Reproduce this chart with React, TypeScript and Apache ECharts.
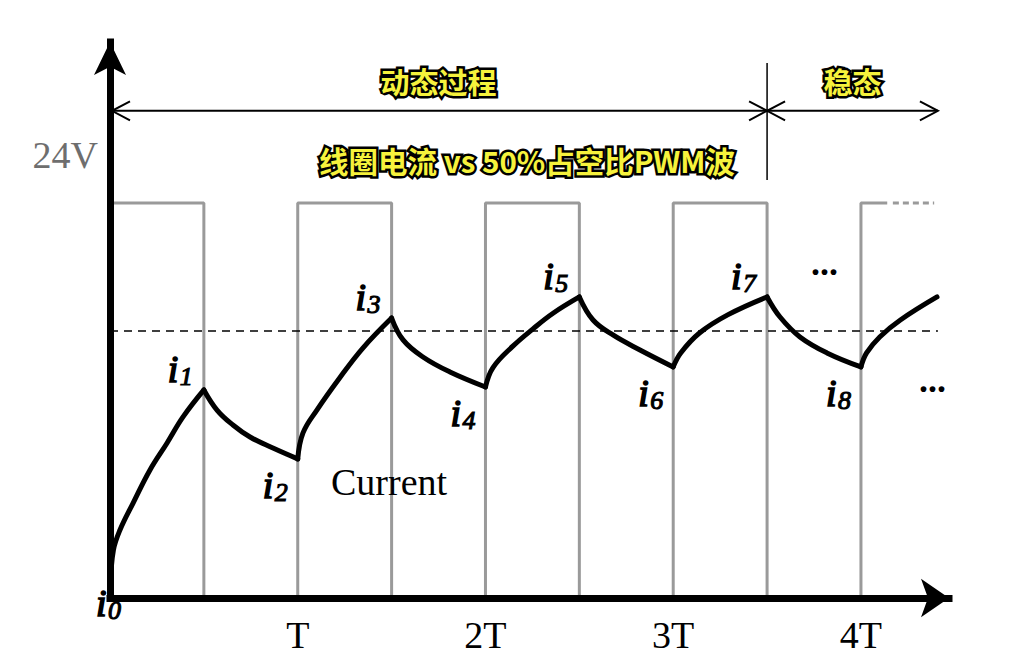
import React, { useEffect, useRef } from "react";
import * as echarts from "echarts";

// ---------- data ----------
const tickLabels = ["", "T", "2T", "3T", "4T"];
const switchTimesT = [0, 0.5, 1, 1.5, 2, 2.5, 3, 3.5, 4];
const switchLevels = [24, 0, 24, 0, 24, 0, 24, 0, 24];
const pwmSolidEndT = 4.14;
const pwmDottedT = [4.17, 4.39];
const avgCurrent = 16.22;
const avgLineEndT = 4.41;

const currentT = [
  0.003, 0.018, 0.053, 0.123, 0.213, 0.304, 0.389, 0.5,
  0.57, 0.655, 0.746, 0.868, 1.0,
  1.028, 1.102, 1.225, 1.348, 1.5,
  1.561, 1.667, 1.811, 2.0,
  2.04, 2.146, 2.253, 2.36, 2.5,
  2.573, 2.679, 2.823, 3.0,
  3.04, 3.14, 3.29, 3.5,
  3.569, 3.675, 3.819, 4.0,
  4.03, 4.1, 4.21, 4.405,
];
const currentA = [
  0.9, 2.9, 4.13, 5.77, 7.78, 9.42, 11.0, 12.64,
  11.42, 10.51, 9.78, 9.11, 8.45,
  10.03, 11.42, 13.4, 15.2, 17.01,
  15.68, 14.64, 13.73, 12.82,
  14.0, 15.3, 16.35, 17.3, 18.29,
  16.89, 15.98, 15.07, 14.04,
  14.89, 16.1, 17.2, 18.29,
  17.07, 15.86, 14.89, 14.04,
  14.89, 15.86, 16.89, 18.29,
];

const phaseBoundsT = [0, 3.5, 4.41];
const phaseLabels = ["动态过程", "稳态"];
const phaseLineLevel = 29.6;
const phaseSepRange = [25.4, 32.5];
const chartTitle = "线圈电流 vs 50%占空比PWM波";
const voltageLabel = "24V";
const currentLabel = "Current";
const ellipsis = "...";

const SERIF = "Liberation Serif";
const CJK = "Noto Sans CJK SC";
const YELLOW = "#f6f23c";
const GREY = "#9a9a9a";

export default function App() {
  const ref = useRef<HTMLDivElement>(null);

  useEffect(() => {
    if (!ref.current) return;
    const chart = echarts.init(ref.current, null, { renderer: "svg" });

    const pwmData: number[][] = [];
    let prev = 0;
    switchTimesT.forEach((t, i) => {
      pwmData.push([t, prev]);
      pwmData.push([t, switchLevels[i]]);
      prev = switchLevels[i];
    });
    pwmData.push([pwmSolidEndT, prev]);

    const isSwitch = (t: number) => Math.abs(t * 2 - Math.round(t * 2)) < 1e-6;
    const nodeIdx: number[] = [0];
    currentT.forEach((t, i) => {
      if (i > 0 && isSwitch(t)) nodeIdx.push(i);
    });
    nodeIdx.push(currentT.length - 1);
    const segSeries: any[] = [];
    for (let k = 0; k < nodeIdx.length - 1; k++) {
      const data: number[][] = [];
      for (let i = nodeIdx[k]; i <= nodeIdx[k + 1]; i++) data.push([currentT[i], currentA[i]]);
      segSeries.push({
        type: "line",
        data,
        symbol: "none",
        smooth: 0.4,
        clip: false,
        silent: true,
        z: 4,
        lineStyle: { color: "#000", width: 5, cap: "round", join: "round" },
      });
    }

    const option: any = {
      animation: false,
      grid: { left: 110, right: 65, top: 42, bottom: 68 },
      xAxis: {
        type: "value",
        min: 0,
        max: 4.469,
        interval: 1,
        z: 6,
        axisLine: {
          show: true,
          onZero: false,
          lineStyle: { color: "#000", width: 7, cap: "square" },
          symbol: ["none", "arrow"],
          symbolSize: [29, 28],
        },
        axisTick: { show: false },
        splitLine: { show: false },
        axisLabel: {
          formatter: (v: number) => tickLabels[Math.round(v)] ?? "",
          fontFamily: SERIF,
          fontSize: 38,
          color: "#000",
          margin: 18,
          showMaxLabel: false,
        },
      },
      yAxis: {
        type: "value",
        min: 0,
        max: 33.78,
        z: 6,
        axisLine: {
          show: true,
          onZero: false,
          lineStyle: { color: "#000", width: 7, cap: "square" },
          symbol: ["none", "arrow"],
          symbolSize: [24, 33],
        },
        axisTick: { show: false },
        axisLabel: { show: false },
        splitLine: { show: false },
      },
      series: [
        {
          type: "line",
          data: pwmData,
          symbol: "none",
          clip: false,
          silent: true,
          z: 1,
          lineStyle: { color: GREY, width: 3 },
        },
        {
          type: "line",
          data: pwmDottedT.map((t) => [t, switchLevels[switchLevels.length - 1]]),
          symbol: "none",
          clip: false,
          silent: true,
          z: 1,
          lineStyle: { color: GREY, width: 3, type: [6, 4] },
        },
        {
          type: "line",
          data: [[0, avgCurrent], [avgLineEndT, avgCurrent]],
          symbol: "none",
          clip: false,
          silent: true,
          z: 2,
          lineStyle: { color: "#000", width: 1.5, type: [8, 6] },
        },
        ...segSeries,
      ],
    };
    chart.setOption(option);

    const P = (t: number, v: number) =>
      chart.convertToPixel({ gridIndex: 0 }, [t, v]) as number[];

    const g: any[] = [];
    const text = (
      str: string,
      x: number,
      y: number,
      f: { family: string; size: number; weight?: string; style?: string },
      fill: string,
      align = "left",
      extra: any = {}
    ) => ({
      type: "text",
      x,
      y,
      z: 20,
      silent: true,
      style: {
        text: str,
        fontFamily: f.family,
        fontSize: f.size,
        fontWeight: f.weight || "normal",
        fontStyle: f.style || "normal",
        fill,
        align,
        verticalAlign: "middle",
        textAlign: align,
        textVerticalAlign: "middle",
        ...extra,
      },
    });
    const outlined = (str: string, x: number, y: number, size: number) => {
      const f = { family: CJK, size, weight: "bold" };
      g.push(
        text(str, x, y, f, "#000", "center", {
          stroke: "#000",
          lineWidth: 5,
          lineJoin: "round",
        })
      );
      g.push(text(str, x, y, f, YELLOW, "center"));
    };

    const [xa, yd] = P(phaseBoundsT[0], phaseLineLevel);
    const xb = P(phaseBoundsT[1], phaseLineLevel)[0];
    const xc = P(phaseBoundsT[2], phaseLineLevel)[0];
    const AW = 18;
    const AH = 9.5;
    const lineStyle = { stroke: "#000", lineWidth: 2, fill: "none" };
    g.push({ type: "line", z: 10, silent: true, shape: { x1: xa + 2, y1: yd, x2: xc, y2: yd }, style: lineStyle });
    const chevron = (x: number, dir: number) => ({
      type: "polyline",
      z: 10,
      silent: true,
      shape: { points: [[x - dir * AW, yd - AH], [x, yd], [x - dir * AW, yd + AH]] },
      style: lineStyle,
    });
    g.push(chevron(xa + 2, -1), chevron(xb, 1), chevron(xb, -1), chevron(xc, 1));
    const ys1 = P(phaseBoundsT[1], phaseSepRange[1])[1];
    const ys2 = P(phaseBoundsT[1], phaseSepRange[0])[1];
    g.push({ type: "line", z: 10, silent: true, shape: { x1: xb, y1: ys1, x2: xb, y2: ys2 }, style: { stroke: "#000", lineWidth: 1.5 } });
    outlined(phaseLabels[0], (xa + xb) / 2, yd - 30, 29);
    outlined(phaseLabels[1], (xb + xc) / 2, yd - 30, 29);
    outlined(chartTitle, 527, 160, 29.5);

    g.push(text(voltageLabel, 98, 155, { family: SERIF, size: 38 }, "#6e6e6e", "right"));
    g.push(text(currentLabel, 331, 482, { family: SERIF, size: 38 }, "#000", "left"));
    const dotF = { family: SERIF, size: 36, weight: "bold" };
    g.push(text(ellipsis, 811, 263, dotF, "#000", "left"));
    g.push(text(ellipsis, 919, 380, dotF, "#000", "left"));

    // i_n labels (italic emboldened with a thin stroke)
    const iF = { family: SERIF, size: 38, style: "italic" };
    const sF = { family: SERIF, size: 26, style: "italic" };
    const nodes = nodeIdx.slice(0, nodeIdx.length - 1);
    nodes.forEach((idx, n) => {
      let bx: number, by: number;
      if (n === 0) {
        const o = P(0, 0);
        bx = o[0] - 14;
        by = o[1] + 18;
      } else {
        const p = P(currentT[idx], currentA[idx]);
        if (n % 2 === 1) {
          bx = p[0] - 36;
          by = p[1] - 8;
        } else {
          bx = p[0] - 35;
          by = p[1] + 39;
        }
      }
      g.push(text("i", bx, by - 12.8, iF, "#000", "left", { stroke: "#000", lineWidth: 1.6 }));
      g.push(text(String(n), bx + 12, by + 3 - 8.8, sF, "#000", "left", { stroke: "#000", lineWidth: 1.1 }));
    });

    chart.setOption({ graphic: g });

    return () => chart.dispose();
  }, []);

  return (
    <div
      ref={ref}
      style={{ position: "fixed", left: 0, top: 0, width: 1014, height: 666, background: "#fff" }}
    />
  );
}
